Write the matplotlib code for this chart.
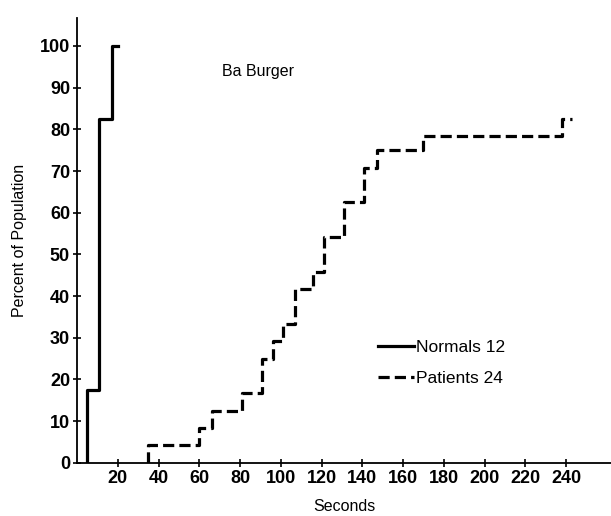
import matplotlib
matplotlib.use("Agg")
import matplotlib.pyplot as plt

plt.rcParams['font.family'] = ['Liberation Sans', 'DejaVu Sans']

# Normals (12): step times in seconds and cumulative percent
normal_times = [5, 11, 17]
normal_pct = [17.5, 82.5, 100]
normal_end = 20

# Patients (24)
patient_times = [35, 60, 66, 81, 91, 96, 101, 107, 116, 121, 131, 141, 147, 170, 238]
patient_pct = [4.2, 8.3, 12.5, 16.7, 25, 29.2, 33.3, 41.7, 45.8, 54.2, 62.5, 70.8, 75, 78.5, 82.5]
patient_end = 243

x_ticks = [20, 40, 60, 80, 100, 120, 140, 160, 180, 200, 220, 240]
y_ticks = [0, 10, 20, 30, 40, 50, 60, 70, 80, 90, 100]

fig = plt.figure(figsize=(6.11, 5.16), dpi=100)
ax = fig.add_axes([0.126, 0.103, 0.874, 0.862])

nx = [normal_times[0]] + normal_times + [normal_end]
ny = [0] + normal_pct + [normal_pct[-1]]
ax.step(nx, ny, where='post', color='black', lw=2.3, label='Normals 12')

px = [patient_times[0]] + patient_times + [patient_end]
py = [0] + patient_pct + [patient_pct[-1]]
ax.step(px, py, where='post', color='black', lw=2.3, linestyle=(0, (3.5, 1.6)),
        label='Patients 24')

ax.set_xlim(0, 262)
ax.set_ylim(0, 106.7)
ax.set_xticks(x_ticks)
ax.set_yticks(y_ticks)
for s in ['top', 'right']:
    ax.spines[s].set_visible(False)
for s in ['left', 'bottom']:
    ax.spines[s].set_linewidth(1.3)
ax.tick_params(direction='inout', length=6, width=1.2, labelsize=13, pad=2)
for lab in ax.get_xticklabels() + ax.get_yticklabels():
    lab.set_fontweight('bold')

ax.set_xlabel('Seconds', fontsize=11.5, labelpad=9)
ax.set_ylabel('Percent of Population', fontsize=11.5, labelpad=9)

ax.text(71, 94, 'Ba Burger', fontsize=11.5, va='center', ha='left')

ax.legend(loc='center left', bbox_to_anchor=(0.55, 0.225), frameon=False,
          fontsize=12.5, handlelength=2.1, handletextpad=0.1, labelspacing=0.9,
          borderaxespad=0)

fig.savefig('out.png', dpi=100)
